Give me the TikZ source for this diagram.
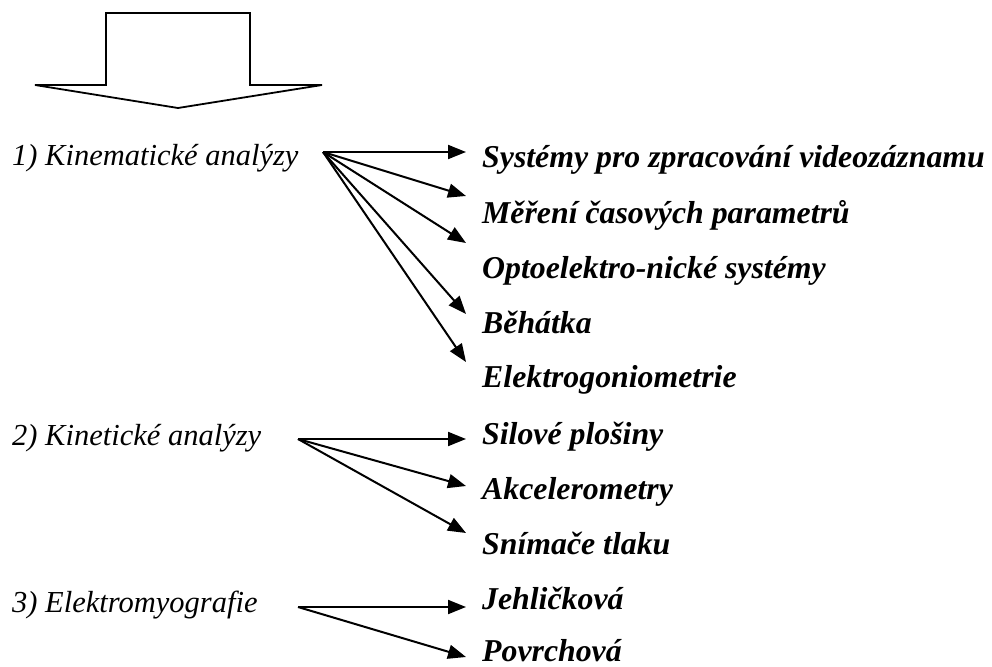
\documentclass[tikz,border=0pt]{standalone}
\usepackage{fontspec}
\setmainfont{Liberation Serif}
\usetikzlibrary{arrows.meta}
\begin{document}
\begin{tikzpicture}[x=1pt,y=-1pt,
  lefttxt/.style={anchor=base west,inner sep=0pt,font=\fontsize{30.5}{32}\selectfont\itshape},
  righttxt/.style={anchor=base west,inner sep=0pt,font=\fontsize{31.8}{33}\selectfont\bfseries\itshape},
  conn/.style={line width=2pt,-{Triangle[length=18pt,width=14pt]}}]
\useasboundingbox (0,0) rectangle (992,666);
% block arrow
\draw[line width=1.8pt,line join=miter] (106,85) -- (106,13) -- (250,13) -- (250,85) -- (322,85) -- (178,108) -- (35,85) -- cycle;
% left labels
\node[lefttxt] (g1) at (12,165) {1) Kinematické analýzy};
\node[lefttxt] (g2) at (12,445) {2) Kinetické analýzy};
\node[lefttxt] (g3) at (12,612) {3) Elektromyografie};
% sources
\coordinate (s1) at (323,152);
\coordinate (s2) at (298,439);
\coordinate (s3) at (298,607);
% tips
\coordinate (t1) at (466,152);
\coordinate (t2) at (466,196);
\coordinate (t3) at (466,243);
\coordinate (t4) at (466,314);
\coordinate (t5) at (466,362);
\coordinate (t6) at (466,439);
\coordinate (t7) at (466,486);
\coordinate (t8) at (466,533);
\coordinate (t9) at (466,607);
\coordinate (t10) at (466,657);
% right labels
\node[righttxt] (r1) at (482,167) {Systémy pro zpracování videozáznamu};
\node[righttxt] (r2) at (482,223) {Měření časových parametrů};
\node[righttxt] (r3) at (482,278) {Optoelektro-nické systémy};
\node[righttxt] (r4) at (482,333) {Běhátka};
\node[righttxt] (r5) at (482,387) {Elektrogoniometrie};
\node[righttxt] (r6) at (482,444) {Silové plošiny};
\node[righttxt] (r7) at (482,499) {Akcelerometry};
\node[righttxt] (r8) at (482,554) {Snímače tlaku};
\node[righttxt] (r9) at (482,609) {Jehličková};
\node[righttxt] (r10) at (482,661) {Povrchová};
% connectors
\foreach \t in {t1,t2,t3,t4,t5} \draw[conn] (s1) -- (\t);
\foreach \t in {t6,t7,t8} \draw[conn] (s2) -- (\t);
\foreach \t in {t9,t10} \draw[conn] (s3) -- (\t);
\end{tikzpicture}
\end{document}
